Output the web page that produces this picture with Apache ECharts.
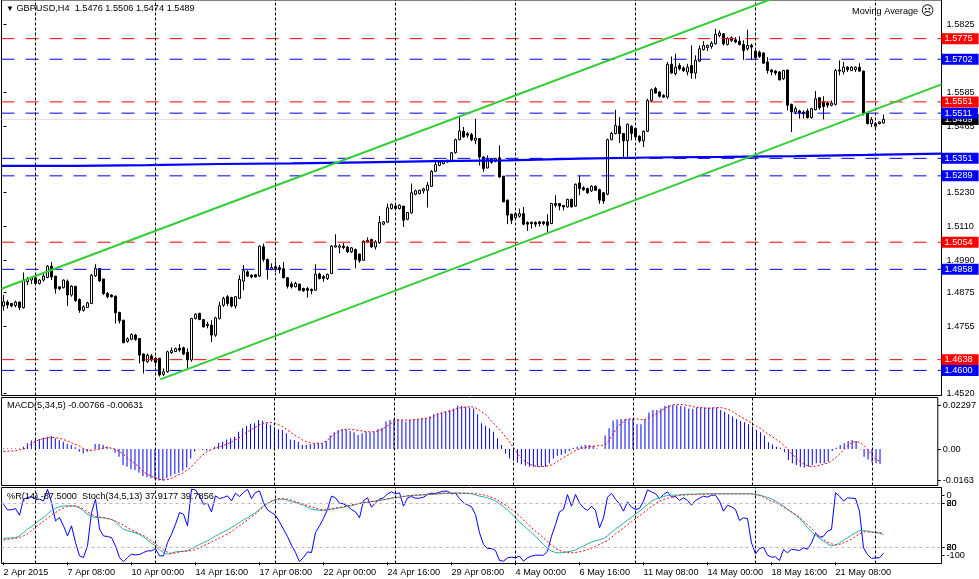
<!DOCTYPE html>
<html><head><meta charset="utf-8">
<script src="https://cdn.jsdelivr.net/npm/echarts@6/dist/echarts.min.js"></script>
<style>html,body{margin:0;padding:0;background:#fff}#c{width:979px;height:579px}</style>
</head><body><div id="c"></div>
<script>
// ---------- DATA ----------
const symbolName = 'GBPUSD,H4';
// [open, close, low, high]
const candles = [
[1.4828,1.4843,1.4811,1.4867],[1.4842,1.4832,1.4819,1.4849],[1.4837,1.4828,1.4823,1.4839],[1.4830,1.4842,1.4823,1.4847],[1.4842,1.4823,1.4813,1.4844],
[1.4822,1.4920,1.4819,1.4947],[1.4914,1.4923,1.4902,1.4931],[1.4920,1.4929,1.4906,1.4931],[1.4928,1.4908,1.4902,1.4931],[1.4908,1.4920,1.4904,1.4924],
[1.4920,1.4934,1.4914,1.4943],[1.4929,1.4969,1.4926,1.4973],[1.4969,1.4931,1.4920,1.4984],[1.4934,1.4890,1.4872,1.4934],[1.4896,1.4889,1.4884,1.4898],
[1.4893,1.4920,1.4890,1.4922],[1.4916,1.4867,1.4828,1.4922],[1.4867,1.4898,1.4861,1.4902],[1.4898,1.4847,1.4843,1.4898],[1.4851,1.4813,1.4804,1.4855],
[1.4813,1.4825,1.4808,1.4831],[1.4823,1.4839,1.4821,1.4843],[1.4837,1.4937,1.4835,1.4941],[1.4935,1.4961,1.4931,1.4976],[1.4961,1.4917,1.4914,1.4961],
[1.4924,1.4872,1.4867,1.4924],[1.4872,1.4861,1.4855,1.4878],[1.4867,1.4861,1.4858,1.4870],[1.4863,1.4804,1.4766,1.4865],[1.4805,1.4776,1.4766,1.4808],
[1.4778,1.4698,1.4696,1.4778],[1.4703,1.4712,1.4698,1.4717],[1.4710,1.4727,1.4707,1.4731],[1.4725,1.4710,1.4705,1.4729],[1.4713,1.4654,1.4625,1.4713],
[1.4658,1.4633,1.4589,1.4660],[1.4631,1.4654,1.4627,1.4660],[1.4651,1.4637,1.4631,1.4658],[1.4643,1.4628,1.4613,1.4648],[1.4643,1.4584,1.4578,1.4643],
[1.4586,1.4595,1.4580,1.4607],[1.4595,1.4666,1.4592,1.4670],[1.4663,1.4670,1.4658,1.4681],[1.4667,1.4677,1.4665,1.4681],[1.4678,1.4672,1.4666,1.4693],
[1.4680,1.4658,1.4654,1.4684],[1.4664,1.4637,1.4601,1.4678],[1.4637,1.4784,1.4631,1.4786],[1.4784,1.4799,1.4780,1.4802],[1.4802,1.4780,1.4778,1.4804],
[1.4780,1.4754,1.4752,1.4780],[1.4763,1.4759,1.4749,1.4772],[1.4760,1.4725,1.4701,1.4778],[1.4725,1.4786,1.4719,1.4790],[1.4784,1.4829,1.4780,1.4843],
[1.4831,1.4855,1.4825,1.4861],[1.4861,1.4837,1.4828,1.4867],[1.4858,1.4828,1.4823,1.4861],[1.4828,1.4861,1.4819,1.4863],[1.4855,1.4922,1.4854,1.4937],
[1.4916,1.4953,1.4884,1.4973],[1.4949,1.4934,1.4931,1.4955],[1.4937,1.4931,1.4926,1.4940],[1.4939,1.4931,1.4929,1.4941],[1.4934,1.5040,1.4931,1.5043],
[1.5038,1.4993,1.4985,1.5049],[1.4993,1.4957,1.4922,1.4996],[1.4957,1.4964,1.4955,1.4979],[1.4967,1.4961,1.4949,1.4987],[1.4964,1.4957,1.4943,1.4973],
[1.4960,1.4928,1.4926,1.4984],[1.4928,1.4898,1.4890,1.4931],[1.4906,1.4896,1.4890,1.4914],[1.4896,1.4908,1.4894,1.4914],[1.4906,1.4884,1.4882,1.4906],
[1.4890,1.4882,1.4878,1.4893],[1.4890,1.4884,1.4858,1.4896],[1.4887,1.4882,1.4870,1.4890],[1.4884,1.4941,1.4882,1.4976],[1.4941,1.4926,1.4922,1.4946],
[1.4932,1.4926,1.4914,1.4938],[1.4926,1.4940,1.4920,1.4943],[1.4943,1.5040,1.4941,1.5044],[1.5037,1.5042,1.5035,1.5082],[1.5036,1.5041,1.5014,1.5047],
[1.5040,1.5035,1.5029,1.5052],[1.5037,1.5020,1.5016,1.5040],[1.5020,1.5034,1.5016,1.5037],[1.5028,1.4993,1.4961,1.5032],[1.5012,1.4988,1.4981,1.5014],
[1.4990,1.5057,1.4988,1.5061],[1.5055,1.5061,1.5052,1.5071],[1.5064,1.5037,1.5035,1.5066],[1.5037,1.5055,1.5028,1.5061],[1.5052,1.5124,1.5049,1.5147],
[1.5118,1.5126,1.5114,1.5129],[1.5125,1.5176,1.5122,1.5191],[1.5173,1.5188,1.5170,1.5191],[1.5182,1.5173,1.5167,1.5190],[1.5173,1.5185,1.5170,1.5188],
[1.5182,1.5132,1.5108,1.5182],[1.5135,1.5159,1.5132,1.5161],[1.5158,1.5229,1.5155,1.5262],[1.5224,1.5236,1.5220,1.5240],[1.5226,1.5238,1.5224,1.5240],
[1.5236,1.5243,1.5226,1.5247],[1.5238,1.5256,1.5177,1.5267],[1.5252,1.5305,1.5250,1.5309],[1.5305,1.5329,1.5303,1.5346],[1.5326,1.5338,1.5323,1.5344],
[1.5332,1.5342,1.5330,1.5344],[1.5338,1.5344,1.5335,1.5346],[1.5342,1.5371,1.5338,1.5374],[1.5371,1.5417,1.5368,1.5421],[1.5417,1.5448,1.5415,1.5500],
[1.5447,1.5427,1.5424,1.5462],[1.5438,1.5433,1.5424,1.5444],[1.5435,1.5417,1.5412,1.5441],[1.5415,1.5423,1.5401,1.5491],[1.5421,1.5356,1.5326,1.5423],
[1.5356,1.5315,1.5303,1.5358],[1.5317,1.5347,1.5315,1.5362],[1.5347,1.5337,1.5332,1.5350],[1.5341,1.5350,1.5337,1.5353],[1.5353,1.5285,1.5283,1.5397],
[1.5288,1.5197,1.5195,1.5288],[1.5203,1.5150,1.5118,1.5205],[1.5153,1.5132,1.5118,1.5155],[1.5141,1.5155,1.5132,1.5161],[1.5146,1.5155,1.5141,1.5173],
[1.5155,1.5118,1.5114,1.5179],[1.5124,1.5118,1.5094,1.5128],[1.5125,1.5120,1.5102,1.5126],[1.5124,1.5118,1.5108,1.5128],[1.5126,1.5120,1.5110,1.5129],
[1.5126,1.5120,1.5114,1.5129],[1.5126,1.5114,1.5090,1.5153],[1.5120,1.5191,1.5118,1.5193],[1.5191,1.5185,1.5177,1.5220],[1.5191,1.5182,1.5167,1.5193],
[1.5184,1.5179,1.5167,1.5186],[1.5179,1.5206,1.5177,1.5208],[1.5206,1.5179,1.5177,1.5208],[1.5182,1.5259,1.5179,1.5262],[1.5264,1.5244,1.5220,1.5291],
[1.5247,1.5240,1.5236,1.5252],[1.5244,1.5229,1.5226,1.5247],[1.5236,1.5252,1.5232,1.5256],[1.5252,1.5238,1.5236,1.5255],[1.5240,1.5203,1.5190,1.5244],
[1.5229,1.5200,1.5190,1.5232],[1.5224,1.5417,1.5220,1.5421],[1.5417,1.5439,1.5415,1.5445],[1.5439,1.5467,1.5436,1.5523],[1.5465,1.5439,1.5405,1.5497],
[1.5439,1.5413,1.5354,1.5441],[1.5413,1.5472,1.5354,1.5474],[1.5465,1.5439,1.5415,1.5468],[1.5457,1.5427,1.5421,1.5460],[1.5429,1.5413,1.5406,1.5433],
[1.5413,1.5447,1.5391,1.5450],[1.5447,1.5556,1.5444,1.5562],[1.5556,1.5594,1.5551,1.5598],[1.5598,1.5582,1.5580,1.5604],[1.5586,1.5571,1.5566,1.5589],
[1.5574,1.5568,1.5565,1.5578],[1.5568,1.5684,1.5562,1.5692],[1.5684,1.5653,1.5651,1.5712],[1.5651,1.5674,1.5645,1.5721],[1.5680,1.5668,1.5662,1.5688],
[1.5671,1.5662,1.5657,1.5677],[1.5657,1.5674,1.5645,1.5686],[1.5680,1.5653,1.5633,1.5751],[1.5653,1.5698,1.5633,1.5716],[1.5695,1.5739,1.5692,1.5751],
[1.5736,1.5751,1.5733,1.5766],[1.5743,1.5751,1.5731,1.5754],[1.5747,1.5759,1.5739,1.5766],[1.5757,1.5790,1.5754,1.5810],[1.5786,1.5795,1.5780,1.5804],
[1.5792,1.5757,1.5751,1.5795],[1.5754,1.5775,1.5751,1.5780],[1.5778,1.5769,1.5763,1.5783],[1.5771,1.5763,1.5759,1.5780],[1.5766,1.5754,1.5751,1.5783],
[1.5754,1.5733,1.5700,1.5769],[1.5739,1.5751,1.5733,1.5806],[1.5751,1.5745,1.5700,1.5757],[1.5731,1.5707,1.5700,1.5733],[1.5727,1.5712,1.5707,1.5733],
[1.5724,1.5688,1.5686,1.5727],[1.5692,1.5662,1.5651,1.5710],[1.5664,1.5657,1.5645,1.5668],[1.5660,1.5653,1.5645,1.5664],[1.5657,1.5629,1.5627,1.5660],
[1.5633,1.5662,1.5629,1.5664],[1.5664,1.5539,1.5521,1.5664],[1.5542,1.5515,1.5444,1.5545],[1.5515,1.5527,1.5507,1.5535],[1.5519,1.5512,1.5492,1.5523],
[1.5515,1.5509,1.5492,1.5521],[1.5519,1.5495,1.5492,1.5527],[1.5495,1.5527,1.5492,1.5530],[1.5523,1.5562,1.5521,1.5589],[1.5566,1.5530,1.5523,1.5568],
[1.5551,1.5535,1.5489,1.5571],[1.5547,1.5539,1.5530,1.5551],[1.5539,1.5547,1.5535,1.5556],[1.5542,1.5662,1.5539,1.5668],[1.5664,1.5660,1.5645,1.5698],
[1.5657,1.5674,1.5648,1.5692],[1.5674,1.5665,1.5657,1.5677],[1.5662,1.5674,1.5660,1.5677],[1.5665,1.5674,1.5657,1.5677],[1.5674,1.5660,1.5657,1.5688],
[1.5660,1.5509,1.5503,1.5662],[1.5512,1.5474,1.5471,1.5515],[1.5474,1.5488,1.5462,1.5497],[1.5465,1.5474,1.5456,1.5480],[1.5474,1.5480,1.5471,1.5483],
[1.5476,1.5489,1.5474,1.5506]
];

// Moving Average (higher-timeframe, stepped): start bar of each step and its value
const maStepBars   = [0,18,36,54,72,90,108,126,144,162,180,198,216];
const maStepValues = [1.5324,1.5327,1.5331,1.5333,1.5337,1.5341,1.5344,1.5350,1.5354,1.5356,1.5359,1.5363,1.5368];

// channel trend lines: [bar, price] anchor pairs
const upperChannel = [[-0.5,1.4889],[195,1.5931]];
const lowerChannel = [[39.2,1.4568],[234.5,1.5613]];

// horizontal levels
const resistanceLevels = [1.5775,1.5551,1.5054,1.4638];
const supportLevels    = [1.5702,1.5511,1.5351,1.5289,1.4958,1.4600];

// MACD(5,34,5)
const macdHist = [
0.0002,0.0002,0.0002,0.0002,0.0003,0.0012,0.0030,0.0044,0.0047,0.0052,
0.0059,0.0064,0.0068,0.0056,0.0047,0.0038,0.0026,0.0021,0.0009,-0.0014,
-0.0023,-0.0014,-0.0002,0.0026,0.0026,0.0021,0.0012,0.0002,-0.0019,-0.0040,
-0.0084,-0.0092,-0.0106,-0.0110,-0.0124,-0.0141,-0.0148,-0.0153,-0.0158,-0.0165,
-0.0165,-0.0153,-0.0141,-0.0131,-0.0124,-0.0113,-0.0096,-0.0049,-0.0014,-0.0002,
-0.0005,-0.0009,-0.0002,0.0012,0.0033,0.0038,0.0050,0.0056,0.0064,0.0090,
0.0108,0.0120,0.0131,0.0134,0.0151,0.0148,0.0134,0.0125,0.0113,0.0103,
0.0099,0.0082,0.0050,0.0047,0.0038,0.0021,0.0021,0.0026,0.0030,0.0033,
0.0030,0.0042,0.0070,0.0087,0.0099,0.0103,0.0103,0.0094,0.0087,0.0073,
0.0082,0.0090,0.0087,0.0090,0.0104,0.0111,0.0143,0.0151,0.0157,0.0157,
0.0151,0.0143,0.0151,0.0157,0.0157,0.0160,0.0160,0.0169,0.0181,0.0186,
0.0191,0.0195,0.0204,0.0212,0.0226,0.0224,0.0221,0.0216,0.0212,0.0181,
0.0134,0.0122,0.0108,0.0090,0.0056,0.0021,-0.0023,-0.0049,-0.0063,-0.0070,
-0.0080,-0.0087,-0.0092,-0.0092,-0.0092,-0.0092,-0.0092,-0.0075,-0.0049,-0.0035,
-0.0031,-0.0023,-0.0010,0.0007,0.0012,0.0017,0.0021,0.0021,0.0017,0.0003,
0.0000,0.0070,0.0108,0.0147,0.0154,0.0157,0.0157,0.0157,0.0157,0.0129,
0.0129,0.0157,0.0191,0.0204,0.0204,0.0212,0.0226,0.0229,0.0230,0.0229,
0.0226,0.0221,0.0212,0.0209,0.0216,0.0216,0.0216,0.0216,0.0216,0.0216,
0.0204,0.0195,0.0181,0.0169,0.0157,0.0146,0.0139,0.0129,0.0117,0.0099,
0.0087,0.0070,0.0035,0.0024,0.0012,0.0007,-0.0017,-0.0057,-0.0075,-0.0084,
-0.0092,-0.0097,-0.0092,-0.0084,-0.0075,-0.0075,-0.0075,-0.0066,-0.0010,0.0007,
0.0021,0.0030,0.0042,0.0047,0.0042,-0.0002,-0.0040,-0.0055,-0.0070,-0.0075,
-0.00766
];
const macdSignal = [
-0.0014,-0.0012,-0.0010,-0.0009,-0.0005,-0.0002,0.0012,0.0026,0.0040,0.0049,
0.0054,0.0057,0.0061,0.0059,0.0056,0.0050,0.0042,0.0033,0.0024,0.0016,
0.0003,-0.0005,-0.0009,-0.0005,-0.0002,0.0005,0.0009,0.0005,0.0000,-0.0012,
-0.0026,-0.0044,-0.0061,-0.0078,-0.0092,-0.0118,-0.0131,-0.0141,-0.0150,-0.0157,
-0.0162,-0.0160,-0.0155,-0.0144,-0.0134,-0.0127,-0.0111,-0.0096,-0.0075,-0.0050,
-0.0031,-0.0016,-0.0005,0.0002,0.0009,0.0016,0.0026,0.0033,0.0047,0.0056,
0.0073,0.0087,0.0099,0.0111,0.0124,0.0134,0.0137,0.0139,0.0134,0.0127,
0.0117,0.0103,0.0089,0.0073,0.0061,0.0047,0.0038,0.0033,0.0030,0.0030,
0.0030,0.0042,0.0059,0.0077,0.0090,0.0099,0.0103,0.0103,0.0101,0.0097,
0.0094,0.0090,0.0090,0.0090,0.0094,0.0101,0.0117,0.0129,0.0143,0.0150,
0.0151,0.0151,0.0151,0.0153,0.0155,0.0157,0.0160,0.0164,0.0171,0.0181,
0.0188,0.0195,0.0198,0.0204,0.0212,0.0216,0.0219,0.0221,0.0219,0.0209,
0.0195,0.0181,0.0157,0.0134,0.0111,0.0090,0.0064,0.0038,0.0007,-0.0023,
-0.0049,-0.0066,-0.0078,-0.0087,-0.0092,-0.0092,-0.0090,-0.0087,-0.0080,-0.0066,
-0.0052,-0.0040,-0.0028,-0.0014,-0.0005,0.0003,0.0009,0.0012,0.0014,0.0017,
0.0019,0.0021,0.0045,0.0080,0.0110,0.0135,0.0150,0.0157,0.0157,0.0157,
0.0153,0.0153,0.0164,0.0174,0.0186,0.0198,0.0212,0.0221,0.0230,0.0233,
0.0233,0.0230,0.0226,0.0221,0.0218,0.0216,0.0214,0.0212,0.0214,0.0216,
0.0216,0.0212,0.0205,0.0195,0.0181,0.0169,0.0157,0.0146,0.0132,0.0118,
0.0108,0.0090,0.0077,0.0064,0.0049,0.0035,0.0017,-0.0005,-0.0028,-0.0049,
-0.0066,-0.0080,-0.0089,-0.0092,-0.0089,-0.0084,-0.0078,-0.0073,-0.0059,-0.0042,
-0.0023,-0.0002,0.0017,0.0035,0.0038,0.0035,0.0017,-0.0005,-0.0031,-0.0057,
-0.00631
];

// Williams %R(14)
const willR = [
-20.8,-28.5,-28.5,-26.7,-35.8,-14.0,-11.7,-10.3,-14.0,-14.0,
-16.3,-0.4,-18.5,-43.5,-39.0,-50.3,-64.0,-50.3,-73.1,-91.3,
-93.5,-77.6,-32.2,-14.0,-54.9,-64.0,-64.9,-66.3,-77.6,-93.5,
-99.4,-93.5,-89.0,-89.9,-89.4,-86.7,-84.4,-84.4,-81.3,-91.3,
-91.3,-73.1,-61.7,-48.1,-32.2,-34.4,-50.3,-0.4,-1.3,-9.4,
-20.8,-19.4,-31.3,-9.4,-13.1,-11.7,-9.4,-16.3,-5.8,-10.3,
-4.9,-0.4,-13.1,-4.9,-2.6,-18.5,-28.5,-32.2,-35.8,-44.9,
-54.9,-64.9,-76.7,-86.7,-99.0,-93.5,-85.8,-86.7,-59.4,-50.3,
-40.0,-28.0,-9.8,-12.1,-19.4,-20.3,-23.5,-28.0,-31.2,-39.4,
-15.7,-12.1,-24.8,-18.9,-13.9,-12.1,-6.6,-3.9,-6.6,-5.3,
-23.5,-12.1,-10.3,-12.6,-12.6,-11.2,-7.6,-5.7,-6.2,-4.4,
-3.0,-3.0,-6.6,-5.7,-13.0,-18.9,-21.6,-24.4,-34.8,-59.8,
-75.7,-81.2,-81.2,-83.9,-97.5,-98.5,-93.9,-93.0,-93.9,-91.6,
-98.5,-93.9,-91.6,-90.3,-90.3,-90.3,-84.8,-64.4,-48.5,-31.2,
-28.0,-7.6,-23.5,-7.6,-18.9,-25.7,-29.4,-23.5,-29.4,-53.0,
-39.4,-11.2,-6.0,-14.0,-20.3,-30.3,-17.6,-24.8,-28.0,-26.6,
-16.6,-1.2,-3.9,-6.6,-13.0,-7.6,-3.9,-11.2,-10.3,-15.7,
-12.1,-15.7,-22.1,-15.7,-12.6,-9.8,-11.2,-8.5,-8.5,-16.6,
-30.3,-22.1,-24.4,-28.0,-43.0,-39.4,-40.3,-73.5,-88.5,-81.2,
-79.4,-90.3,-93.0,-92.5,-97.5,-82.5,-87.1,-82.1,-83.0,-83.9,
-80.3,-82.1,-73.5,-60.3,-65.7,-64.4,-57.5,-55.3,-5.3,-9.8,
-16.6,-12.1,-12.6,-13.0,-30.3,-80.3,-89.4,-94.8,-93.9,-93.9,
-87.5
];

// Stochastic(34,5,13) main and signal
const stochMain = [
32.8,32.8,33.3,33.7,36.0,40.6,45.1,48.7,52.8,57.4,
61.0,65.6,70.6,73.7,76.0,76.9,76.9,76.9,76.5,74.2,
70.1,65.6,62.4,61.0,61.0,60.6,59.7,58.7,55.1,49.7,
45.1,43.3,41.5,40.1,37.8,34.7,30.6,26.0,22.4,16.9,
13.3,11.0,12.4,14.2,14.7,15.1,15.6,18.8,21.5,24.2,
26.9,29.2,32.4,36.0,38.7,41.5,44.2,47.4,50.6,54.2,
57.8,61.0,64.2,67.8,72.4,76.9,80.1,83.3,85.1,86.0,
86.0,84.7,82.8,81.5,79.7,77.8,75.1,72.4,71.5,71.0,
70.6,71.5,72.4,73.4,74.3,75.2,76.1,77.0,78.8,80.6,
81.5,82.0,82.9,83.4,84.3,85.2,86.5,87.4,88.4,88.8,
89.7,90.6,91.1,91.5,91.5,92.0,92.4,92.4,92.9,93.4,
93.8,94.3,94.3,94.3,94.3,94.3,93.8,93.4,92.0,90.2,
89.3,87.9,86.1,83.4,79.7,75.6,71.5,66.1,60.6,54.7,
50.2,45.2,40.6,35.6,29.7,24.3,18.8,15.2,13.4,12.9,
13.4,14.3,15.2,17.0,19.7,22.0,25.2,27.5,29.3,30.6,
32.5,36.1,41.0,45.6,49.3,53.4,57.5,61.5,66.1,69.7,
74.3,78.8,83.4,86.1,87.9,89.7,91.1,91.5,91.5,92.0,
92.4,92.9,92.9,92.9,93.4,93.4,93.4,93.4,93.4,93.4,
93.4,93.4,93.4,93.4,93.4,93.4,93.4,93.4,92.9,91.5,
90.2,88.4,86.5,83.4,80.2,76.5,72.4,68.4,64.3,59.7,
53.8,47.0,41.5,37.0,32.5,28.8,25.2,22.5,23.4,26.5,
29.7,33.4,37.0,40.2,43.4,43.4,42.5,41.5,40.6,39.7,
37.9177
];
const stochSignal = [
30.6,31.5,31.9,32.8,33.7,36.0,39.2,43.3,47.8,51.9,
56.0,60.1,64.2,67.8,71.5,74.2,76.0,76.9,76.9,75.1,
72.4,68.7,65.1,62.4,61.5,61.0,59.7,58.3,56.0,53.3,
50.6,47.4,44.2,41.5,39.2,36.5,33.3,29.2,24.7,21.0,
16.9,13.7,11.9,12.8,14.2,15.1,15.6,16.0,17.4,19.7,
22.4,25.1,27.8,30.6,33.3,36.0,38.7,41.9,46.0,49.7,
53.7,57.8,61.9,66.0,70.6,76.0,80.1,83.3,85.6,86.9,
86.9,86.0,84.7,82.8,81.0,79.2,77.4,75.6,73.7,72.4,
71.1,72.0,72.9,73.8,74.7,75.6,77.0,78.4,79.3,80.2,
81.1,82.0,82.9,83.8,84.7,85.6,86.5,87.4,88.4,88.8,
89.7,90.6,91.1,91.5,92.0,92.4,92.9,93.4,93.4,93.8,
94.3,94.3,94.3,94.3,94.3,94.3,94.3,94.3,93.8,92.9,
92.0,90.6,88.8,86.5,83.4,79.7,76.1,72.0,67.9,63.4,
57.9,52.5,47.0,42.5,37.9,33.4,28.4,23.4,18.8,16.1,
14.3,13.4,12.9,13.4,14.3,15.6,17.5,19.3,21.6,24.3,
27.0,29.7,34.0,38.8,42.5,47.0,51.1,55.2,59.3,63.4,
67.5,72.0,76.1,79.7,83.4,85.6,87.4,88.8,90.2,91.1,
91.5,92.0,92.4,92.4,92.9,92.9,92.9,93.4,93.4,93.4,
93.4,93.4,93.4,93.4,93.4,93.4,93.4,93.4,92.0,91.1,
88.8,86.1,83.4,81.6,78.8,75.2,72.0,68.8,65.2,61.5,
56.1,51.5,46.1,40.6,35.6,31.1,27.5,25.2,23.8,24.3,
26.5,28.8,31.5,35.2,38.8,41.5,41.5,41.1,40.6,40.2,
39.7856
];
const stochLevels = [80, 20];

// tick labels
const priceTicks = [1.5825,1.5585,1.5465,1.5230,1.5110,1.4990,1.4875,1.4755,1.4520];
const macdTickValues = [0.02297, 0, -0.0163];
const macdTickLabels = ['0.02297', '0.00', '-0.0163'];
const stochTickValues = [80, 20];
const stochTickLabels = ['80', '20'];
const willLevelTickValues = [-20, -80];
const willLevelTickLabels = ['20', '80'];
const willRangeTickValues = [-9.2, -91];
const willRangeTickLabels = ['0', '-100'];
const xTickLabels = ['2 Apr 2015','7 Apr 08:00','10 Apr 00:00','14 Apr 16:00','17 Apr 08:00','22 Apr 00:00','24 Apr 16:00','29 Apr 08:00','4 May 00:00','6 May 16:00','11 May 08:00','14 May 00:00','18 May 16:00','21 May 08:00'];
const xTickStep = 16;
const gridBars = [8,38,68,98,128,158,188,218];

// ---------- CHART ----------
const N = 235; // bar slots across the plot (incl. right shift)
const cats = Array.from({length: N}, (_, i) => String(i));
const FONT = '"Liberation Sans", Arial, sans-serif';
const FS = 9.2;
const last = candles[candles.length - 1];
const lastIdx = candles.length - 1;

const maData = maStepBars.map((b, k) => [k === 0 ? -0.5 : b, maStepValues[k]]);
maData.push([N - 0.5, maStepValues[maStepValues.length - 1]]);

function lookup(vals, labels) {
  return v => { for (let k = 0; k < vals.length; k++) if (Math.abs(vals[k] - v) < 1e-9) return labels[k]; return ''; };
}
const vGrid = (xi, yi) => ({
  type: 'line', xAxisIndex: xi, yAxisIndex: yi, data: [], z: 1, silent: true,
  markLine: { silent: true, symbol: ['none','none'], animation: false, label: {show: false}, precision: 6,
    lineStyle: {color: '#000', type: [3,2], width: 1},
    data: gridBars.map(b => ({xAxis: b})) }
});
// a horizontal level as its own line series with a price tag at the right end
const levelSeries = (v, color, dash, tagBg, z) => ({
  type: 'line', xAxisIndex: 1, yAxisIndex: 0, data: [[-0.5, v], [N - 0.5, v]], showSymbol: false, silent: true, z: z,
  clip: false, lineStyle: {color: color, width: 1, type: dash}, itemStyle: {color: color},
  endLabel: {show: true, distance: 0, formatter: () => v.toFixed(4), color: '#fff', backgroundColor: tagBg,
    fontSize: FS, fontFamily: FONT, lineHeight: 10, padding: [1,6,0,3], align: 'left', verticalAlign: 'middle'}
});

const labelInterval = idx => idx % xTickStep === 0 && idx / xTickStep < xTickLabels.length;
const yLabel = (vals, fmt) => ({customValues: vals, formatter: fmt, color: '#000', fontSize: FS, fontFamily: FONT, margin: 5, hideOverlap: false});
const yTick = vals => ({show: true, customValues: vals, length: 3, lineStyle: {color: '#000'}});
const yBase = {type: 'value', position: 'right', splitLine: {show: false}, axisLine: {show: false}};

const series = [
  vGrid(0, 0),
  levelSeries(last[1], '#c0c0c0', [1,1], '#000', 2),
  {type: 'candlestick', name: 'price', xAxisIndex: 0, yAxisIndex: 0, data: candles, barWidth: 2, z: 3,
   itemStyle: {color: '#ffffff', color0: '#000000', borderColor: '#000000', borderColor0: '#000000', borderColorDoji: '#000000', borderWidth: 1}}
];
resistanceLevels.forEach(v => series.push(levelSeries(v, '#ff0000', [13,11], '#ff0000', 4)));
supportLevels.forEach(v => series.push(levelSeries(v, '#0000ff', [13,11], '#0000ff', 4)));
series.push(
  {type: 'line', name: 'Moving Average', xAxisIndex: 1, yAxisIndex: 0, data: maData, step: 'end', showSymbol: false, z: 5,
   lineStyle: {color: '#0000ff', width: 2.2}, itemStyle: {color: '#0000ff'}},
  {type: 'line', name: 'upper channel', xAxisIndex: 1, yAxisIndex: 0, data: upperChannel, showSymbol: false, clip: true, z: 6,
   lineStyle: {color: '#32cd32', width: 2}},
  {type: 'line', name: 'lower channel', xAxisIndex: 1, yAxisIndex: 0, data: lowerChannel, showSymbol: false, clip: true, z: 6,
   lineStyle: {color: '#32cd32', width: 2}},

  vGrid(2, 1),
  {type: 'bar', name: 'MACD', xAxisIndex: 2, yAxisIndex: 1, data: macdHist, barWidth: 1, z: 3, itemStyle: {color: '#0000ff'}},
  {type: 'line', name: 'Signal', xAxisIndex: 2, yAxisIndex: 1, data: macdSignal, showSymbol: false, z: 4,
   lineStyle: {color: '#ff0000', width: 1, type: [2,2]}},

  vGrid(3, 2),
  {type: 'line', name: 'levels80_20', xAxisIndex: 3, yAxisIndex: 2, data: [], z: 2, silent: true,
   markLine: {silent: true, symbol: ['none','none'], animation: false, label: {show: false}, precision: 6,
     lineStyle: {color: '#c8b0c8', type: [3,3], width: 1}, data: stochLevels.map(v => ({yAxis: v}))}},
  {type: 'line', name: '%R', xAxisIndex: 3, yAxisIndex: 3, data: willR, showSymbol: false, z: 4,
   lineStyle: {color: '#0000ff', width: 1}},
  {type: 'line', name: 'Stoch', xAxisIndex: 3, yAxisIndex: 2, data: stochMain, showSymbol: false, z: 4,
   lineStyle: {color: '#20b2aa', width: 1}},
  {type: 'line', name: 'Stoch signal', xAxisIndex: 3, yAxisIndex: 2, data: stochSignal, showSymbol: false, z: 4,
   lineStyle: {color: '#ff0000', width: 1, type: [2,2]}}
);

const GL = 1.5, GW = 940; // 4 px per bar slot, bar centres on pixel centres
const option = {
  animation: false,
  backgroundColor: '#fff',
  textStyle: {fontFamily: FONT},
  title: [
    {text: '{t|▼} ' + symbolName + '  ' + [last[0], last[3], last[2], last[1]].map(v => v.toFixed(4)).join(' '),
     left: 6, top: 3.8, padding: 0,
     textStyle: {fontSize: FS, fontWeight: 'normal', color: '#000', fontFamily: FONT, rich: {t: {fontSize: 8, color: '#000'}}}},
    {text: 'Moving Average {f|☹}', left: 852, top: 5, padding: 0,
     textStyle: {fontSize: FS, fontWeight: 'normal', color: '#000', fontFamily: FONT, rich: {f: {fontSize: 13, color: '#000', fontFamily: 'DejaVu Sans'}}}},
    {text: 'MACD(5,34,5) ' + macdHist[lastIdx].toFixed(5) + ' ' + macdSignal[lastIdx].toFixed(5),
     left: 7, top: 400.5, padding: 0, textStyle: {fontSize: FS, fontWeight: 'normal', color: '#000', fontFamily: FONT}},
    {text: '%R(14) ' + willR[lastIdx].toFixed(4) + '  Stoch(34,5,13) ' + stochMain[lastIdx].toFixed(4) + ' ' + stochSignal[lastIdx].toFixed(4),
     left: 7, top: 492.2, padding: 0, textStyle: {fontSize: FS, fontWeight: 'normal', color: '#000', fontFamily: FONT}}
  ],
  grid: [
    {left: GL, top: -0.5, width: GW, height: 396, show: true, borderColor: '#000', borderWidth: 1, backgroundColor: 'transparent'},
    {left: GL, top: 397.5, width: GW, height: 88, show: true, borderColor: '#000', borderWidth: 1, backgroundColor: 'transparent'},
    {left: GL, top: 487.5, width: GW, height: 76, show: true, borderColor: '#000', borderWidth: 1, backgroundColor: 'transparent'}
  ],
  xAxis: [
    {gridIndex: 0, type: 'category', data: cats, boundaryGap: true, show: false},
    {gridIndex: 0, type: 'value', min: -0.5, max: N - 0.5, show: false},
    {gridIndex: 1, type: 'category', data: cats, boundaryGap: true, show: false},
    {gridIndex: 2, type: 'category', data: cats, boundaryGap: true,
     axisLine: {show: false},
     axisTick: {show: true, alignWithLabel: true, interval: labelInterval, length: 3, lineStyle: {color: '#000'}},
     axisLabel: {interval: labelInterval, formatter: (v, i) => xTickLabels[Math.round(i / xTickStep)] || '', align: 'left',
       fontSize: FS, fontFamily: FONT, color: '#000', margin: 4, hideOverlap: false},
     splitLine: {show: false}}
  ],
  yAxis: [
    Object.assign({gridIndex: 0, min: 1.45111, max: 1.59118,
      axisTick: yTick(priceTicks), axisLabel: yLabel(priceTicks, v => v.toFixed(4))}, yBase),
    Object.assign({gridIndex: 1, min: -0.01905, max: 0.02688,
      axisTick: yTick(macdTickValues), axisLabel: yLabel(macdTickValues, lookup(macdTickValues, macdTickLabels))}, yBase),
    Object.assign({gridIndex: 2, min: -1.64, max: 102.0,
      axisTick: yTick(stochTickValues), axisLabel: yLabel(stochTickValues, lookup(stochTickValues, stochTickLabels))}, yBase),
    Object.assign({gridIndex: 2, min: -101.64, max: 2.0,
      axisTick: yTick(willLevelTickValues), axisLabel: yLabel(willLevelTickValues, lookup(willLevelTickValues, willLevelTickLabels))}, yBase),
    Object.assign({gridIndex: 2, min: -101.64, max: 2.0,
      axisTick: yTick(willRangeTickValues), axisLabel: yLabel(willRangeTickValues, lookup(willRangeTickValues, willRangeTickLabels))}, yBase)
  ],
  series: series
};
const chart = echarts.init(document.getElementById('c'), null, {renderer: 'canvas'});
chart.setOption(option);
</script></body></html>
